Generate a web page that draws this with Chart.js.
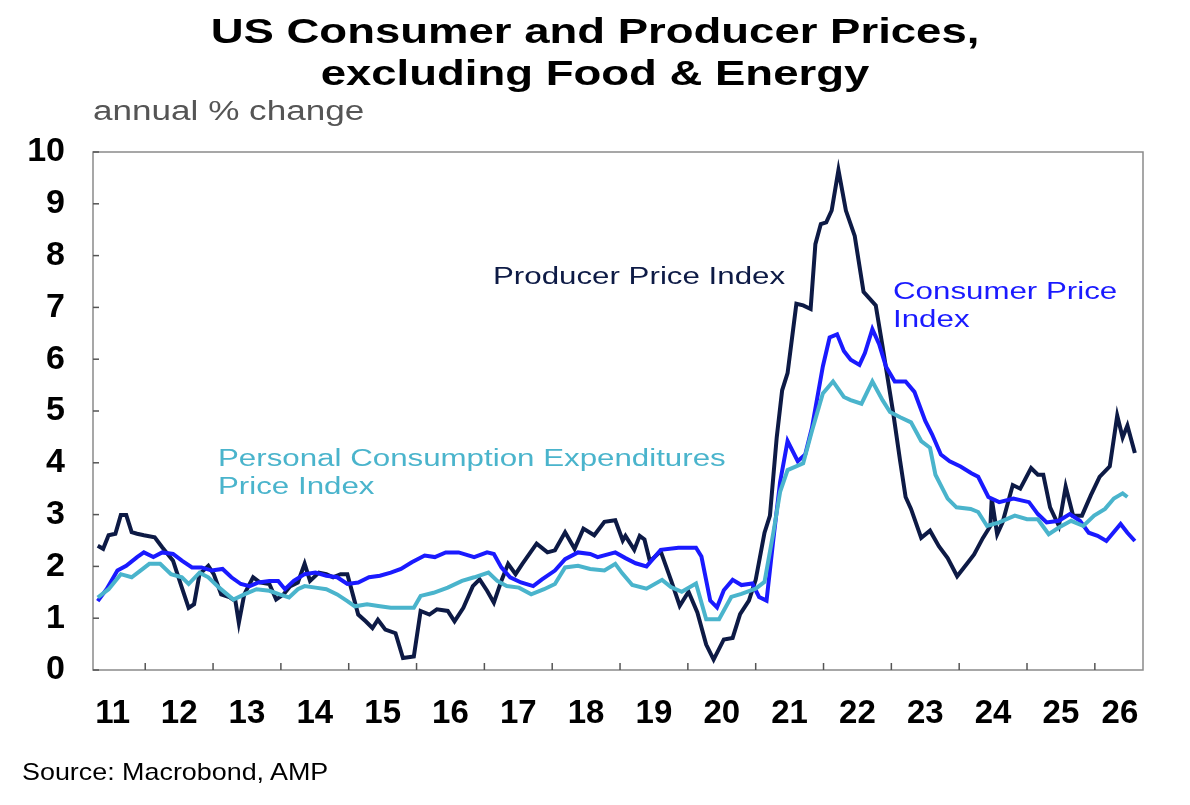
<!DOCTYPE html>
<html><head><meta charset="utf-8">
<script src="https://cdn.jsdelivr.net/npm/chart.js@4.4.1/dist/chart.umd.min.js"></script>
<style>
html,body{margin:0;padding:0;background:#fff;width:1190px;height:805px;overflow:hidden;font-family:"Liberation Sans",Arial,sans-serif}
#wrap{position:absolute;left:0;top:0;width:1190px;height:805px}
.t{position:absolute;white-space:nowrap;transform-origin:0 0}
</style></head><body>
<div id="wrap"><canvas id="c" width="1190" height="805"></canvas></div>
<div class="t" style="left:0;width:1190px;text-align:center;top:10px;font-size:35px;font-weight:bold;line-height:42px;color:#000;transform:scaleX(1.3);transform-origin:595px 0">US Consumer and Producer Prices,<br>excluding Food &amp; Energy</div>
<div class="t" style="left:93px;top:96px;font-size:27px;color:#555;transform:scaleX(1.3)">annual % change</div>
<div class="t" style="left:493px;top:263px;font-size:23px;color:#0d1a45;transform:scaleX(1.36)">Producer Price Index</div>
<div class="t" style="left:893px;top:277px;font-size:23px;line-height:28px;color:#1a1aff;transform:scaleX(1.36)">Consumer Price<br>Index</div>
<div class="t" style="left:218px;top:444px;font-size:23px;line-height:28px;color:#4ab4cc;transform:scaleX(1.36)">Personal Consumption Expenditures<br>Price Index</div>
<div class="t" style="left:22px;top:758px;font-size:24px;color:#000;transform:scaleX(1.12)">Source: Macrobond, AMP</div>
<script>
const yearTicks=[2012,2013,2014,2015,2016,2017,2018,2019,2020,2021,2022,2023,2024,2025,2026];
const yearLabels=["11","12","13","14","15","16","17","18","19","20","21","22","23","24","25","26"];
const yTicks=[0,1,2,3,4,5,6,7,8,9,10];

const ppiX=[2011.30,2011.38,2011.46,2011.56,2011.64,2011.72,2011.80,2011.88,2011.98,2012.14,2012.25,2012.41,2012.54,2012.64,2012.72,2012.80,2012.93,2013.01,2013.12,2013.25,2013.33,2013.38,2013.46,2013.59,2013.69,2013.83,2013.93,2014.04,2014.14,2014.25,2014.35,2014.43,2014.56,2014.67,2014.77,2014.88,2014.98,2015.06,2015.14,2015.25,2015.35,2015.43,2015.54,2015.69,2015.80,2015.96,2016.06,2016.19,2016.30,2016.46,2016.56,2016.69,2016.83,2016.93,2017.04,2017.14,2017.25,2017.35,2017.46,2017.56,2017.77,2017.93,2018.04,2018.19,2018.33,2018.46,2018.62,2018.77,2018.93,2019.04,2019.08,2019.21,2019.29,2019.36,2019.44,2019.60,2019.75,2019.88,2020.01,2020.14,2020.27,2020.38,2020.53,2020.66,2020.77,2020.90,2021.00,2021.13,2021.21,2021.31,2021.39,2021.47,2021.60,2021.70,2021.81,2021.88,2021.96,2022.04,2022.12,2022.22,2022.33,2022.46,2022.59,2022.66,2022.77,2022.87,2023.03,2023.13,2023.21,2023.29,2023.44,2023.57,2023.70,2023.83,2023.97,2024.12,2024.22,2024.35,2024.46,2024.48,2024.56,2024.64,2024.79,2024.90,2025.06,2025.16,2025.24,2025.34,2025.47,2025.57,2025.68,2025.81,2025.94,2026.07,2026.22,2026.33,2026.41,2026.48,2026.59];
const ppiY=[2.40,2.34,2.60,2.63,2.99,2.99,2.66,2.63,2.60,2.56,2.37,2.11,1.59,1.20,1.27,1.85,2.01,1.85,1.46,1.40,1.33,0.91,1.46,1.79,1.69,1.66,1.36,1.46,1.62,1.69,2.05,1.72,1.88,1.85,1.79,1.85,1.85,1.46,1.07,0.94,0.81,0.97,0.78,0.71,0.23,0.26,1.14,1.07,1.17,1.14,0.94,1.20,1.62,1.75,1.53,1.30,1.72,2.05,1.85,2.05,2.44,2.27,2.31,2.66,2.34,2.73,2.60,2.86,2.89,2.50,2.59,2.32,2.59,2.52,2.10,2.29,1.74,1.24,1.51,1.11,0.49,0.20,0.59,0.62,1.08,1.34,1.74,2.65,2.98,4.49,5.40,5.73,7.07,7.04,6.97,8.22,8.61,8.64,8.87,9.65,8.87,8.38,7.30,7.20,7.04,6.25,4.94,4.03,3.34,3.11,2.55,2.69,2.39,2.16,1.81,2.06,2.23,2.55,2.78,3.31,2.62,2.85,3.57,3.50,3.90,3.77,3.77,3.14,2.78,3.54,2.98,2.98,3.37,3.73,3.93,4.91,4.49,4.72,4.19];

const cpiX=[2011.30,2011.43,2011.59,2011.72,2011.88,2011.98,2012.12,2012.25,2012.41,2012.54,2012.69,2012.83,2012.98,2013.14,2013.27,2013.41,2013.54,2013.67,2013.83,2013.96,2014.06,2014.19,2014.35,2014.51,2014.67,2014.83,2014.98,2015.14,2015.30,2015.46,2015.62,2015.77,2015.93,2016.12,2016.27,2016.43,2016.62,2016.85,2017.04,2017.14,2017.25,2017.38,2017.54,2017.72,2017.85,2018.04,2018.19,2018.38,2018.56,2018.67,2018.93,2019.08,2019.23,2019.39,2019.60,2019.86,2020.12,2020.20,2020.33,2020.43,2020.53,2020.66,2020.79,2020.95,2021.05,2021.16,2021.26,2021.36,2021.47,2021.62,2021.73,2021.83,2021.99,2022.09,2022.20,2022.30,2022.40,2022.53,2022.61,2022.72,2022.82,2022.92,2023.05,2023.21,2023.34,2023.50,2023.60,2023.73,2023.86,2024.02,2024.18,2024.28,2024.43,2024.59,2024.80,2025.03,2025.16,2025.29,2025.47,2025.63,2025.78,2025.91,2026.04,2026.17,2026.38,2026.48,2026.59];
const cpiY=[1.33,1.56,1.92,2.01,2.18,2.27,2.18,2.27,2.24,2.11,1.98,1.98,1.92,1.95,1.79,1.66,1.62,1.69,1.72,1.72,1.56,1.72,1.85,1.88,1.82,1.79,1.66,1.69,1.79,1.82,1.88,1.95,2.08,2.21,2.18,2.27,2.27,2.18,2.27,2.24,1.98,1.79,1.69,1.62,1.75,1.92,2.14,2.27,2.24,2.18,2.27,2.16,2.06,2.00,2.32,2.36,2.36,2.19,1.34,1.21,1.54,1.74,1.64,1.67,1.41,1.34,2.52,3.63,4.42,4.03,4.16,4.68,5.86,6.42,6.48,6.16,5.99,5.89,6.12,6.58,6.29,5.86,5.57,5.57,5.37,4.81,4.55,4.16,4.03,3.93,3.80,3.73,3.34,3.24,3.31,3.24,3.01,2.85,2.88,3.01,2.88,2.65,2.59,2.49,2.82,2.65,2.49];

const pceX=[2011.30,2011.46,2011.64,2011.80,2011.93,2012.06,2012.22,2012.38,2012.54,2012.64,2012.80,2012.93,2013.09,2013.30,2013.46,2013.64,2013.83,2013.98,2014.12,2014.25,2014.35,2014.51,2014.67,2014.83,2014.98,2015.09,2015.27,2015.46,2015.62,2015.77,2015.96,2016.06,2016.25,2016.46,2016.67,2016.85,2017.06,2017.19,2017.33,2017.51,2017.69,2017.88,2018.04,2018.19,2018.38,2018.56,2018.77,2018.93,2019.03,2019.18,2019.39,2019.62,2019.75,2019.91,2020.12,2020.27,2020.46,2020.64,2020.79,2021.00,2021.13,2021.26,2021.36,2021.47,2021.70,2021.83,2021.99,2022.14,2022.30,2022.40,2022.56,2022.72,2022.87,2022.98,2023.13,2023.29,2023.44,2023.57,2023.65,2023.83,2023.96,2024.17,2024.28,2024.41,2024.59,2024.82,2025.00,2025.16,2025.32,2025.47,2025.65,2025.83,2025.99,2026.15,2026.28,2026.41,2026.48];
const pceY=[1.40,1.56,1.85,1.79,1.92,2.05,2.05,1.85,1.79,1.66,1.88,1.79,1.59,1.36,1.46,1.56,1.53,1.46,1.40,1.56,1.62,1.59,1.56,1.46,1.33,1.23,1.27,1.23,1.20,1.20,1.20,1.43,1.49,1.59,1.72,1.79,1.88,1.72,1.62,1.59,1.46,1.56,1.66,1.98,2.01,1.95,1.92,2.05,1.87,1.64,1.57,1.74,1.60,1.51,1.67,0.98,0.98,1.41,1.47,1.57,1.70,2.65,3.44,3.86,3.99,4.62,5.34,5.57,5.27,5.21,5.14,5.57,5.21,4.98,4.88,4.78,4.42,4.29,3.77,3.31,3.14,3.11,3.05,2.78,2.85,2.98,2.91,2.91,2.62,2.75,2.88,2.78,2.98,3.11,3.31,3.41,3.34];

const pts=(xs,ys)=>xs.map((x,i)=>({x:x,y:ys[i]}));
const labelPos=yearLabels.map((l,i)=>Math.min(2011+i+0.5,2026.37));
labelPos[0]=2011.52;

const frame={id:'frame',afterDraw(ch){
  const {ctx,chartArea:a,scales:{x,y}}=ch;
  ctx.save();ctx.strokeStyle='#8a8a8a';ctx.lineWidth=1.5;
  ctx.strokeRect(a.left,a.top,a.right-a.left,a.bottom-a.top);
  ctx.strokeStyle='#555';ctx.lineWidth=1.5;
  yearTicks.forEach(v=>{const px=x.getPixelForValue(v);ctx.beginPath();ctx.moveTo(px,a.bottom);ctx.lineTo(px,a.bottom-7);ctx.stroke();});
  yTicks.forEach(v=>{const py=y.getPixelForValue(v);ctx.beginPath();ctx.moveTo(a.left,py);ctx.lineTo(a.left+6,py);ctx.stroke();});
  ctx.restore();
}};

const ds=(label,xs,ys,color)=>({label,data:pts(xs,ys),borderColor:color,borderWidth:4,pointRadius:0,tension:0,fill:false});

new Chart(document.getElementById('c'),{
  type:'line',
  data:{datasets:[
    ds('Personal Consumption Expenditures Price Index',pceX,pceY,'#4ab4cc'),
    ds('Consumer Price Index',cpiX,cpiY,'#1a1aff'),
    ds('Producer Price Index',ppiX,ppiY,'#0d1a45')
  ]},
  options:{
    responsive:false,animation:false,
    layout:{padding:{top:152,right:47,left:0,bottom:0}},
    plugins:{legend:{display:false},tooltip:{enabled:false}},
    scales:{
      x:{type:'linear',min:2011.23,max:2026.71,
        afterBuildTicks(s){s.ticks=labelPos.map(v=>({value:v}));},
        afterFit(s){s.height=135;},
        grid:{display:false},border:{display:false},
        ticks:{autoSkip:false,maxRotation:0,padding:16,color:'#000',font:{family:'Liberation Sans',size:33,weight:'bold'},
          callback:(v,i)=>yearLabels[i]}},
      y:{min:0,max:10,
        afterBuildTicks(s){s.ticks=yTicks.map(v=>({value:v}));},
        afterFit(s){s.width=93;},
        grid:{display:false},border:{display:false},
        ticks:{padding:20,color:'#000',font:{family:'Liberation Sans',size:34,weight:'bold'}}}
    }
  },
  plugins:[frame]
});
</script>
</body></html>
